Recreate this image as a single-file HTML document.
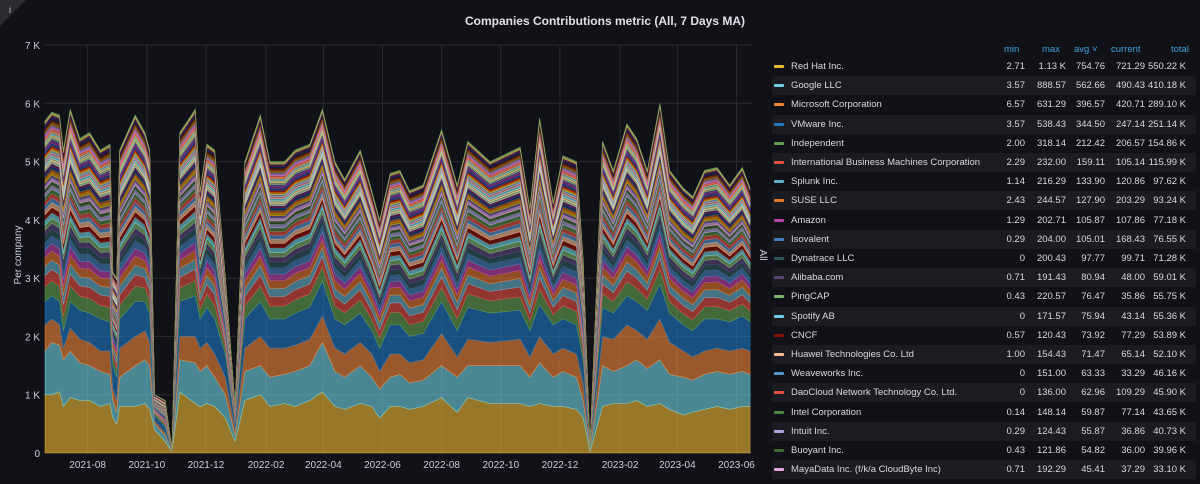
<!DOCTYPE html>
<html><head><meta charset="utf-8">
<style>
body{margin:0;background:#111217;width:1200px;height:484px;overflow:hidden;font-family:"Liberation Sans",sans-serif;color:#ccccdc;position:relative}
#title{position:absolute;left:0;width:1210px;top:14px;text-align:center;font-size:12px;font-weight:bold;color:#e0e0e8}
#legend{position:absolute;left:772px;top:40px;width:424px;font-size:9.5px}
.hdr{position:absolute;top:4px;color:#3d9fe0;font-size:9.5px}
.row{position:absolute;left:0;width:424px;height:19px;line-height:19px}
.row.alt{background:#1b1c21}
.sw{position:absolute;left:2px;top:8px;width:10px;height:3px;border-radius:1px}
.nm{position:absolute;left:19px;color:#d8d9e0}
.c{position:absolute;text-align:right;width:50px;color:#d8d9e0}
</style></head><body>
<div id="corner" style="position:absolute;left:0;top:0;width:0;height:0;border-top:26px solid #2a2b31;border-right:26px solid transparent"></div>
<div style="position:absolute;left:9px;top:5px;font-size:9px;color:#ccc">i</div>
<div id="title">Companies Contributions metric (All, 7 Days MA)</div>
<svg id="chart" width="1200" height="484" style="position:absolute;left:0;top:0"></svg>
<div id="legend">
<div class="hdr" style="left:232px">min</div>
<div class="hdr" style="left:270px">max</div>
<div class="hdr" style="left:302px">avg ˅</div>
<div class="hdr" style="left:339px">current</div>
<div class="hdr" style="left:399px">total</div>
</div>
<script>
const days=[1,8,16,20,27,37,47,58,68,71,75,78,94,104,109,114,125,132,140,156,161,168,176,187,197,207,223,233,248,259,274,287,300,310,326,338,346,357,367,377,391,410,426,437,460,491,501,511,525,535,549,556,563,576,587,601,611,622,635,645,659,669,681,694,707,720,728];
const redhat=[1.0,1.0,1.05,.8,.95,.9,.9,.8,.85,.6,.5,.8,.8,.85,.75,.4,.2,.02,1.05,.85,.8,.85,.8,.6,.2,.9,1.0,.8,.85,.8,.9,1.05,.8,.75,.85,.8,.6,.8,.8,.75,.8,.95,.7,.95,.85,.85,.8,.85,.8,.8,.75,.6,.02,.8,.85,.85,.9,.8,.85,.75,.65,.7,.75,.8,.75,.8,.8];
const google=[.75,.9,.8,.8,.8,.65,.6,.6,.5,.3,.2,.5,.7,.75,.75,.1,.1,.01,.55,.7,.6,.65,.5,.4,.1,.5,.5,.5,.5,.6,.6,.85,.6,.55,.65,.5,.5,.5,.55,.45,.45,.55,.6,.55,.65,.65,.5,.7,.5,.6,.55,.3,.03,.7,.55,.65,.7,.65,.75,.6,.65,.55,.6,.6,.6,.6,.55];
const microsoft=[.45,.4,.35,.2,.4,.4,.4,.35,.4,.2,.2,.5,.5,.5,.4,.05,.05,0,.4,.45,.4,.4,.4,.3,.1,.4,.5,.5,.45,.45,.45,.45,.4,.4,.4,.4,.3,.4,.35,.35,.35,.55,.35,.45,.4,.45,.35,.45,.4,.4,.4,.3,.01,.5,.55,.7,.5,.5,.7,.55,.45,.4,.4,.4,.4,.4,.4];
const vmware=[.4,.4,.4,.3,.45,.5,.5,.55,.5,.4,.4,.5,.6,.5,.5,.1,.1,.01,.6,.7,.5,.6,.6,.4,.1,.5,.6,.5,.5,.55,.55,.6,.5,.5,.5,.4,.4,.5,.5,.45,.45,.55,.45,.55,.5,.5,.45,.55,.5,.5,.5,.4,.02,.5,.45,.5,.5,.5,.6,.5,.45,.45,.55,.5,.5,.55,.5];
const others=[3.1,3.15,3.2,3.1,3.3,2.95,3.1,2.9,3.05,1.6,1.7,2.9,3.2,2.9,2.8,.35,.45,.01,2.9,3.2,2.2,2.8,2.9,1.3,.3,2.7,3.2,2.7,2.7,2.8,2.8,2.95,2.7,2.5,2.8,2.4,2.2,2.6,2.65,2.5,2.55,2.95,2.5,2.85,2.6,2.8,2.1,3.2,2.1,2.8,2.8,1.7,.02,2.85,2.45,2.95,2.8,2.4,3.1,2.45,2.35,2.3,2.55,2.6,2.35,2.55,2.3];
const otherShares=[212,159,134,128,106,105,98,81,76,76,74,71,63,63,60,56,55,45,44,43,42,41,40,39,38,37,36,35,34,33,33,32,31,30,30,29,28,27,27,26,25,25,24,23,22,22,21,20];
const yTicks=[0,1,2,3,4,5,6,7];
const yTickLabels=['0','1 K','2 K','3 K','4 K','5 K','6 K','7 K'];
const xTickDays=[45,106,167,229,288,349,410,471,532,594,653,714];
const xTickLabels=['2021-08','2021-10','2021-12','2022-02','2022-04','2022-06','2022-08','2022-10','2022-12','2023-02','2023-04','2023-06'];
const legendNames=['Red Hat Inc.','Google LLC','Microsoft Corporation','VMware Inc.','Independent','International Business Machines Corporation','Splunk Inc.','SUSE LLC','Amazon','Isovalent','Dynatrace LLC','Alibaba.com','PingCAP','Spotify AB','CNCF','Huawei Technologies Co. Ltd','Weaveworks Inc.','DaoCloud Network Technology Co. Ltd.','Intel Corporation','Intuit Inc.','Buoyant Inc.','MayaData Inc. (f/k/a CloudByte Inc)'];
const legMin=['2.71','3.57','6.57','3.57','2.00','2.29','1.14','2.43','1.29','0.29','0','0.71','0.43','0','0.57','1.00','0','0','0.14','0.29','0.43','0.71'];
const legMax=['1.13 K','888.57','631.29','538.43','318.14','232.00','216.29','244.57','202.71','204.00','200.43','191.43','220.57','171.57','120.43','154.43','151.00','136.00','148.14','124.43','121.86','192.29'];
const legAvg=['754.76','562.66','396.57','344.50','212.42','159.11','133.90','127.90','105.87','105.01','97.77','80.94','76.47','75.94','73.92','71.47','63.33','62.96','59.87','55.87','54.82','45.41'];
const legCur=['721.29','490.43','420.71','247.14','206.57','105.14','120.86','203.29','107.86','168.43','99.71','48.00','35.86','43.14','77.29','65.14','33.29','109.29','77.14','36.86','36.00','37.29'];
const legTot=['550.22 K','410.18 K','289.10 K','251.14 K','154.86 K','115.99 K','97.62 K','93.24 K','77.18 K','76.55 K','71.28 K','59.01 K','55.75 K','55.36 K','53.89 K','52.10 K','46.16 K','45.90 K','43.65 K','40.73 K','39.96 K','33.10 K'];

const topColors=['#EAB839','#6ED0E0','#EF843C','#1F78C1'];
const otherColors=['#629E51','#E24D42','#64B0C8','#E0752D','#BA43A9','#447EBC','#2F575E','#584477','#7EB26D','#6ED0E0','#890F02','#F9BA8F','#5195CE','#E24D42','#508642','#AEA2E0','#3F6833','#E5A8E2','#705DA0','#CCA300','#C15C17','#0A437C','#6D1F62','#B7DBAB','#F4D598','#70DBED','#F29191','#82B5D8','#E5AC0E','#BF1B00','#0A50A1','#962D82','#614D93','#9AC48A','#F2C96D','#65C5DB','#F9934E','#EA6460','#D683CE','#806EB7','#967302','#99440A','#58140C','#052B51','#511749','#3F2B5B','#EAB839','#7EB26D'];
const NS='http://www.w3.org/2000/svg';
const svg=document.getElementById('chart');
const X0=44,X1=752,Y0=453,Y1=45;
const xs=d=>X0+(d-0)/(730-0)*(X1-X0);
const ys=v=>Y0-(v/7)*(Y0-Y1);
function mk(tag,attrs){const e=document.createElementNS(NS,tag);for(const k in attrs)e.setAttribute(k,attrs[k]);svg.appendChild(e);return e;}
yTicks.forEach((t,i)=>{
  const l=mk('line',{x1:45,x2:X1,y1:ys(t),y2:ys(t),stroke:'#2a2b31','stroke-width':1});
  
  
  const tx=mk('text',{x:40,y:ys(t)+4,'text-anchor':'end','font-size':10,fill:'#ccccdc','font-family':'Liberation Sans, sans-serif'});
  tx.textContent=yTickLabels[i];
  
  
});
xTickDays.forEach((d,i)=>{
  const l=mk('line',{x1:xs(d),x2:xs(d),y1:Y1,y2:Y0,stroke:'#2a2b31','stroke-width':1});
  
  
  const tx=mk('text',{x:xs(d),y:468,'text-anchor':'middle','font-size':10,fill:'#ccccdc','font-family':'Liberation Sans, sans-serif'});
  tx.textContent=xTickLabels[i];
  
  
});
const yt=mk('text',{x:0,y:0,transform:'translate(21,255) rotate(-90)','text-anchor':'middle','font-size':10,fill:'#ccccdc','font-family':'Liberation Sans, sans-serif'});
yt.textContent='Per company';


const at=mk('text',{x:0,y:0,transform:'translate(760,255) rotate(90)','text-anchor':'middle','font-size':10,fill:'#ccccdc','font-family':'Liberation Sans, sans-serif'});
at.textContent='All';


const shareSum=otherShares.reduce((a,b)=>a+b,0);
const layers=[redhat,google,microsoft,vmware];
otherShares.forEach(s=>layers.push(others.map(v=>v*s/shareSum)));
const colors=topColors.concat(otherColors);
let base=days.map(()=>0);
layers.forEach((vals,li)=>{
  const top=base.map((b,i)=>b+vals[i]);
  let d='M'+days.map((dd,i)=>xs(dd).toFixed(1)+','+ys(top[i]).toFixed(1)).join('L');
  for(let i=days.length-1;i>=0;i--)d+='L'+xs(days[i]).toFixed(1)+','+ys(base[i]).toFixed(1);
  d+='Z';
  const c=colors[li%colors.length];
  const p=mk('path',{d:d,fill:c,'fill-opacity':0.62,stroke:c,'stroke-width':0.6,'stroke-opacity':0.75});
  
  
  base=top;
});
const leg=document.getElementById('legend');
legendNames.forEach((n,i)=>{
  const r=document.createElement('div');
  r.className='row'+(i%2===1?' alt':'');
  r.style.top=(17+i*19.2)+'px';
  
  
  const c=i<4?topColors[i]:otherColors[i-4];
  r.innerHTML='<div class="sw" style="background:'+c+'"></div><div class="nm">'+n+'</div>'+
   '<div class="c" style="left:203px">'+legMin[i]+'</div><div class="c" style="left:244px">'+legMax[i]+'</div>'+
   '<div class="c" style="left:283px">'+legAvg[i]+'</div><div class="c" style="left:323px">'+legCur[i]+'</div>'+
   '<div class="c" style="left:364px">'+legTot[i]+'</div>';
  leg.appendChild(r);
});
</script>
</body></html>
